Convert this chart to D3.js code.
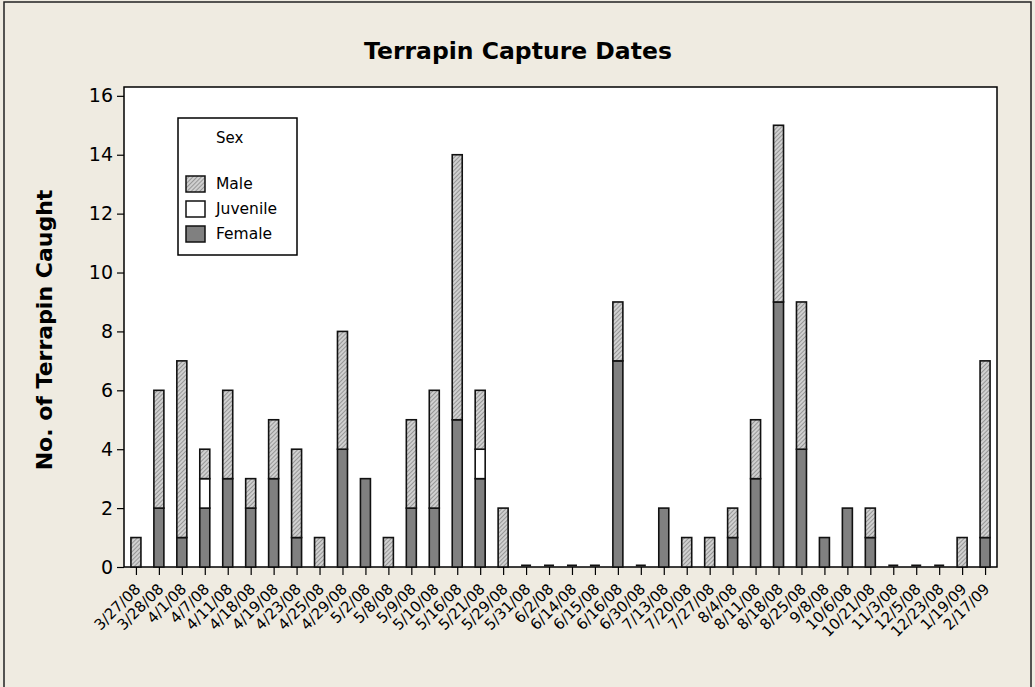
<!DOCTYPE html>
<html>
<head>
<meta charset="utf-8">
<script src="https://cdn.jsdelivr.net/npm/d3@7"></script>
<style>
    body { margin: 0; background: #efebe1; }
    svg { display: block; }
    text { font-family: "DejaVu Sans", sans-serif; fill: #000; }
</style>
</head>
<body>
<svg id="chart" width="1035" height="687"></svg>
<script>
// capture dates and counts by sex
const dates = ['3/27/08', '3/28/08', '4/1/08', '4/7/08', '4/11/08', '4/18/08', '4/19/08', '4/23/08',
    '4/25/08', '4/29/08', '5/2/08', '5/8/08', '5/9/08', '5/10/08', '5/16/08', '5/21/08', '5/29/08',
    '5/31/08', '6/2/08', '6/14/08', '6/15/08', '6/16/08', '6/30/08', '7/13/08', '7/20/08', '7/27/08',
    '8/4/08', '8/11/08', '8/18/08', '8/25/08', '9/8/08', '10/6/08', '10/21/08', '11/3/08', '12/5/08',
    '12/23/08', '1/19/09', '2/17/09'];
const female   = [0, 2, 1, 2, 3, 2, 3, 1, 0, 4, 3, 0, 2, 2, 5, 3, 0, 0, 0, 0, 0, 7, 0, 2, 0, 0, 1, 3, 9, 4, 1, 2, 1, 0, 0, 0, 0, 1];
const juvenile = [0, 0, 0, 1, 0, 0, 0, 0, 0, 0, 0, 0, 0, 0, 0, 1, 0, 0, 0, 0, 0, 0, 0, 0, 0, 0, 0, 0, 0, 0, 0, 0, 0, 0, 0, 0, 0, 0];
const male     = [1, 4, 6, 1, 3, 1, 2, 3, 1, 4, 0, 1, 3, 4, 9, 2, 2, 0, 0, 0, 0, 2, 0, 0, 1, 1, 1, 2, 6, 5, 0, 0, 1, 0, 0, 0, 1, 6];
const yTicks = [0, 2, 4, 6, 8, 10, 12, 14, 16];
const legendItems = ['Male', 'Juvenile', 'Female'];

const keys = ['Female', 'Juvenile', 'Male'];
const table = dates.map((d, i) => ({
    date: d,
    Female: female[i],
    Juvenile: juvenile[i],
    Male: male[i],
}));

const svg = d3.select('#chart');
const plot = {left: 124, top: 87, right: 997, bottom: 567};

const defs = svg.append('defs');
const pat = defs.append('pattern')
    .attr('id', 'hatch')
    .attr('patternUnits', 'userSpaceOnUse')
    .attr('width', 3)
    .attr('height', 3)
    .attr('patternTransform', 'rotate(45)');
pat.append('rect')
    .attr('width', 3)
    .attr('height', 3)
    .attr('fill', '#d0d0d0');
pat.append('line')
    .attr('x1', 0).attr('y1', 0)
    .attr('x2', 0).attr('y2', 3)
    .attr('stroke', '#777')
    .attr('stroke-width', 1.3);

const fills = {
    Male: 'url(#hatch)',
    Juvenile: '#ffffff',
    Female: '#808080',
};

// outer frame
svg.append('rect')
    .attr('x', 4)
    .attr('y', 2)
    .attr('width', 1027)
    .attr('height', 720)
    .attr('fill', '#efebe1')
    .attr('stroke', '#222')
    .attr('stroke-width', 1.5);

svg.append('text')
    .attr('x', 518)
    .attr('y', 59)
    .attr('text-anchor', 'middle')
    .attr('font-size', 23.5)
    .attr('font-weight', 'bold')
    .text('Terrapin Capture Dates');

svg.append('rect')
    .attr('x', plot.left)
    .attr('y', plot.top)
    .attr('width', plot.right - plot.left)
    .attr('height', plot.bottom - plot.top)
    .attr('fill', '#fff')
    .attr('stroke', '#000')
    .attr('stroke-width', 1.5);

const x = d3.scalePoint()
    .domain(dates)
    .range([plot.left, plot.right])
    .padding(0.52);

const y = d3.scaleLinear()
    .domain([0, 16.3])
    .range([plot.bottom, plot.top]);

const barW = 10;
const series = d3.stack().keys(keys)(table);

series.forEach(s => {
    svg.append('g')
        .selectAll('rect')
        .data(s.filter(d => d[1] - d[0] > 0))
        .join('rect')
        .attr('x', d => x(d.data.date) - barW / 2)
        .attr('y', d => y(d[1]))
        .attr('width', barW)
        .attr('height', d => y(d[0]) - y(d[1]))
        .attr('fill', fills[s.key])
        .attr('stroke', '#111')
        .attr('stroke-width', 1.6);
});

// zero-count dates show as a flat bar on the axis
svg.append('g')
    .selectAll('rect')
    .data(table.filter(d => d.Female + d.Juvenile + d.Male === 0))
    .join('rect')
    .attr('x', d => x(d.date) - barW / 2)
    .attr('y', y(0) - 2.5)
    .attr('width', barW)
    .attr('height', 2)
    .attr('fill', '#111');

const yAxis = svg.append('g')
    .attr('transform', `translate(${plot.left},0)`)
    .call(d3.axisLeft(y).tickValues(yTicks).tickSize(7).tickPadding(4));
yAxis.select('.domain').remove();
yAxis.selectAll('text')
    .attr('font-size', 19)
    .attr('font-family', '"DejaVu Sans", sans-serif');
yAxis.selectAll('line').attr('stroke', '#000').attr('stroke-width', 1.2);

const xAxis = svg.append('g')
    .attr('transform', `translate(0,${plot.bottom})`)
    .call(d3.axisBottom(x).tickSize(8).tickPadding(3));
xAxis.select('.domain').remove();
xAxis.selectAll('line').attr('stroke', '#000').attr('stroke-width', 1.2);
xAxis.selectAll('text')
    .attr('font-size', 15)
    .attr('font-family', '"DejaVu Sans", sans-serif')
    .attr('text-anchor', 'end')
    .attr('y', 0)
    .attr('dy', 0)
    .attr('transform', 'translate(5,23) rotate(-45)');

svg.append('text')
    .attr('transform', 'translate(52,330) rotate(-90)')
    .attr('text-anchor', 'middle')
    .attr('font-size', 22)
    .attr('font-weight', 'bold')
    .text('No. of Terrapin Caught');

// legend
const lg = svg.append('g');
lg.append('rect')
    .attr('x', 178)
    .attr('y', 118)
    .attr('width', 119)
    .attr('height', 137)
    .attr('fill', '#fff')
    .attr('stroke', '#000')
    .attr('stroke-width', 1.5);
lg.append('text')
    .attr('x', 216)
    .attr('y', 143)
    .attr('font-size', 15)
    .text('Sex');
legendItems.forEach((k, i) => {
    const yy = 176 + i * 25;
    lg.append('rect')
        .attr('x', 186)
        .attr('y', yy)
        .attr('width', 19)
        .attr('height', 16)
        .attr('fill', fills[k])
        .attr('stroke', '#111')
        .attr('stroke-width', 1.5);
    lg.append('text')
        .attr('x', 216)
        .attr('y', yy + 13)
        .attr('font-size', 15.5)
        .text(k);
});
</script>
</body>
</html>
